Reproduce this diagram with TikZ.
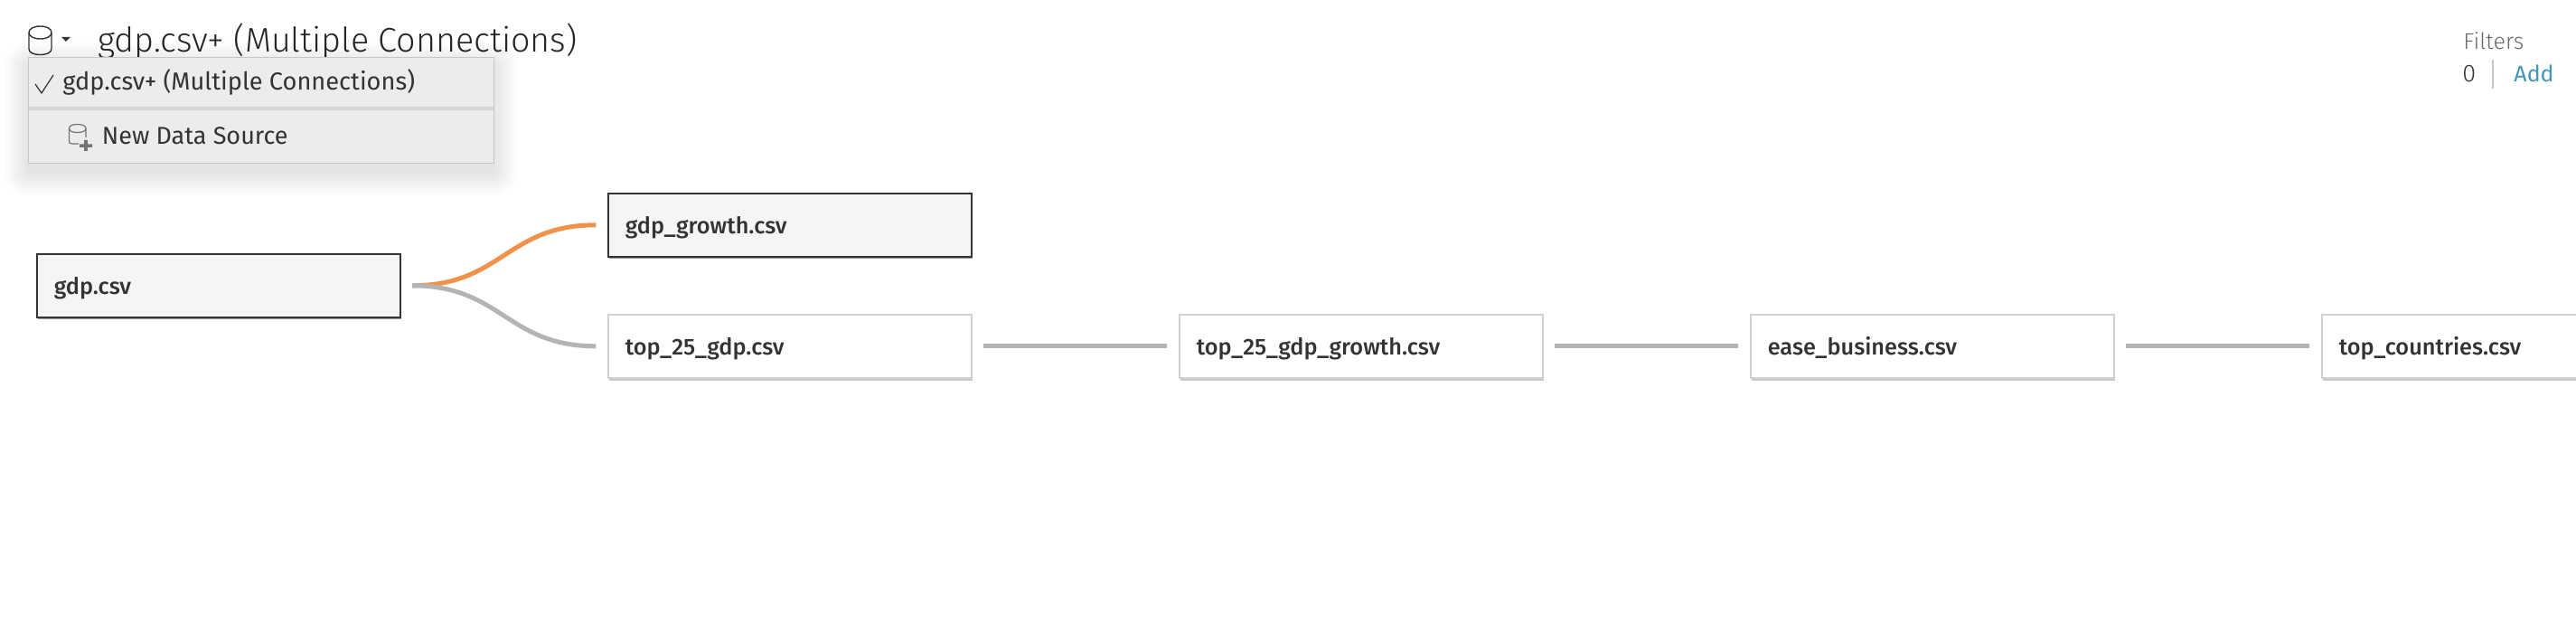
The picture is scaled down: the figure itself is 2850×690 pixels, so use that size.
\documentclass[tikz,border=0pt]{standalone}
\usepackage{fontspec}
\setmainfont{Fira Sans}
\newfontfamily\lightf{Fira Sans Light}
\newfontfamily\medf{Fira Sans Medium}
\usetikzlibrary{shadows}
\definecolor{inkc}{HTML}{333333}
\definecolor{linec}{HTML}{B4B4B4}
\definecolor{orangec}{HTML}{F1914A}
\definecolor{menuc}{HTML}{ECECEC}
\definecolor{sepc}{HTML}{D6D6D6}
\definecolor{addc}{HTML}{4596B5}
\definecolor{greyc}{HTML}{6A6A6A}
\tikzset{
  x=0.5pt,y=-0.5pt,
  tbox/.style={rectangle,minimum width=201pt,minimum height=35pt,text width=182pt,
    inner xsep=9.5pt,inner ysep=0pt,align=left,text height=10.5pt,text depth=1pt,
    font=\medf\fontsize{12.65}{15}\selectfont,text=inkc,anchor=north west},
  selbox/.style={tbox,draw=inkc,line width=0.8pt,fill=black!4,
    drop shadow={shadow xshift=0.6pt,shadow yshift=-1.2pt,fill=black!40,opacity=1}},
  plainbox/.style={tbox,draw=black!18,line width=0.8pt,fill=white,
    drop shadow={shadow xshift=0.8pt,shadow yshift=-1.5pt,fill=black!22,opacity=1}},
  conn/.style={line width=2.5pt,draw=linec,shorten <=6.3pt,shorten >=6.3pt},
  txt/.style={anchor=base west,inner sep=0pt,text=inkc},
  icon/.style={draw=inkc,line width=0.7pt,line join=round},
}
\begin{document}
\begin{tikzpicture}
\useasboundingbox (0,0) rectangle (2850,690);
\clip (0,0) rectangle (2850,690);
\fill[white] (0,0) rectangle (2850,690);

% title row
\node[txt,text=black!85,font=\lightf\fontsize{18.85}{20}\selectfont] (title) at (108,58) {gdp.csv+ (Multiple Connections)};
\draw[icon] (32,36) .. controls (32,32) and (37,29) .. (44.5,29) .. controls (52,29) and (57,32) .. (57,36)
  -- (57,54) .. controls (57,58) and (52,60.5) .. (44.5,60.5) .. controls (37,60.5) and (32,58) .. (32,54) -- cycle;
\draw[icon] (32,36) .. controls (32,40) and (37,43) .. (44.5,43) .. controls (52,43) and (57,40) .. (57,36);
\fill[inkc] (68,41) -- (78,41) -- (73,46) -- cycle;

% menu shadow
\foreach \r in {26,24,...,0}{
  \fill[black,opacity=0.007,rounded corners=\r*0.5pt] (31-\r,63-\r+10) rectangle (546+\r,180+\r+10);
}
\node[draw=black!22,line width=0.5pt,fill=menuc,minimum width=257.5pt,minimum height=58.5pt,inner sep=0pt,anchor=north west] (menu) at (31,63) {};
\fill[sepc] (31.5,118) rectangle (545.5,122);
\draw[inkc,line width=0.6pt] (39,93) -- (46,103) -- (59,83);
\node[txt,font=\fontsize{13.6}{16}\selectfont] (item1) at (69,99.5) {gdp.csv+ (Multiple Connections)};
\node[txt,font=\fontsize{13.5}{16}\selectfont] (item2) at (112.5,159.5) {New Data Source};
\begin{scope}[draw=black!55,line width=0.6pt]
\draw[draw=black!55] (87,159) -- (80,159) .. controls (77,159) and (76.5,158) .. (76.5,156) -- (76.5,142)
  .. controls (76.5,139) and (80,137.5) .. (85.5,137.5) .. controls (91,137.5) and (95,139) .. (95,142) -- (95,152);
\draw[draw=black!55] (76.5,142) .. controls (76.5,145) and (80,146.5) .. (85.5,146.5) .. controls (91,146.5) and (95,145) .. (95,142);
\end{scope}
\fill[black!55] (88,159.5) rectangle (102,163) (93.2,155) rectangle (96.8,167);

% filters
\node[txt,text=greyc,font=\lightf\fontsize{12.5}{14}\selectfont] (filters) at (2725,55) {Filters};
\node[txt,font=\lightf\fontsize{13.5}{15}\selectfont] (count) at (2724,91) {0};
\node[txt,text=addc,font=\fontsize{12.5}{15}\selectfont] (add) at (2781,91) {Add};
\fill[black!22] (2757,66) rectangle (2759,98);

% tables
\node[selbox] (gdp) at (40,280) {gdp.csv};
\node[selbox] (growth) at (672,213) {gdp\_growth.csv};
\node[plainbox] (top) at (672,347) {top\_25\_gdp.csv};
\node[plainbox] (topgrowth) at (1304,347) {top\_25\_gdp\_growth.csv};
\node[plainbox] (ease) at (1936,347) {ease\_business.csv};
\node[plainbox] (countries) at (2568,347) {top\_countries.csv};

% connectors
\draw[conn,draw=orangec] (gdp.east) to[out=0,in=180,looseness=1.2] (growth.west);
\draw[conn] (gdp.east) to[out=0,in=180,looseness=1.2] (top.west);
\draw[conn] (top.east) -- (topgrowth.west);
\draw[conn] (topgrowth.east) -- (ease.west);
\draw[conn] (ease.east) -- (countries.west);
\end{tikzpicture}
\end{document}
